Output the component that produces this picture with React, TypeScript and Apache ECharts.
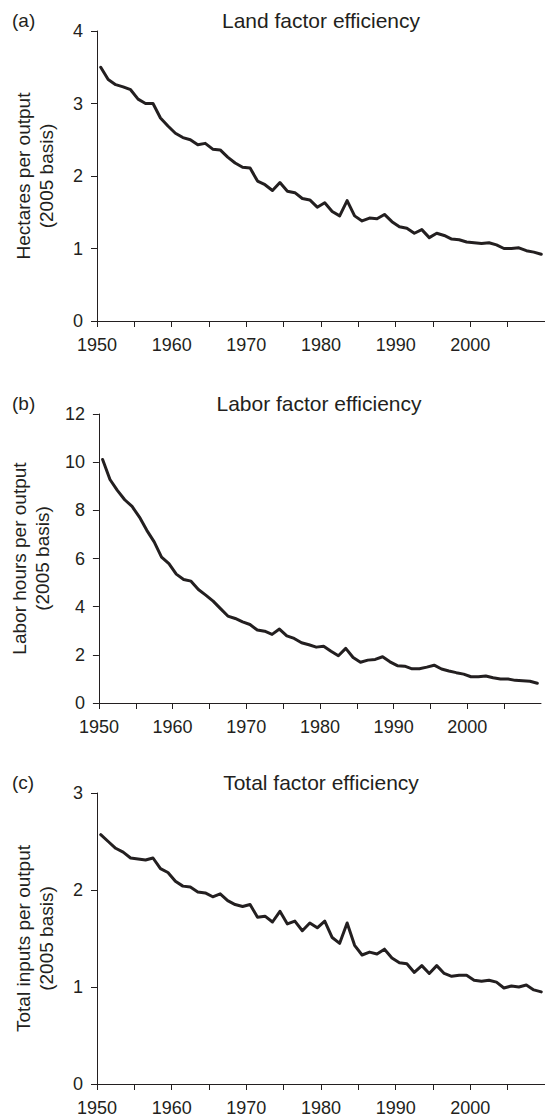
import React, { useEffect, useRef } from 'react';
import * as echarts from 'echarts';

const years = [
  1950, 1951, 1952, 1953, 1954, 1955, 1956, 1957, 1958, 1959,
  1960, 1961, 1962, 1963, 1964, 1965, 1966, 1967, 1968, 1969,
  1970, 1971, 1972, 1973, 1974, 1975, 1976, 1977, 1978, 1979,
  1980, 1981, 1982, 1983, 1984, 1985, 1986, 1987, 1988, 1989,
  1990, 1991, 1992, 1993, 1994, 1995, 1996, 1997, 1998, 1999,
  2000, 2001, 2002, 2003, 2004, 2005, 2006, 2007, 2008, 2009,
];

const landValues = [
  3.50, 3.33, 3.26, 3.23, 3.19, 3.06, 3.00, 3.00, 2.80, 2.69,
  2.59, 2.53, 2.50, 2.43, 2.45, 2.37, 2.36, 2.26, 2.18, 2.12,
  2.11, 1.93, 1.88, 1.80, 1.91, 1.79, 1.77, 1.69, 1.67, 1.57,
  1.63, 1.51, 1.45, 1.66, 1.45, 1.38, 1.42, 1.41, 1.47, 1.37,
  1.30, 1.28, 1.21, 1.26, 1.15, 1.21, 1.18, 1.13, 1.12, 1.09,
  1.08, 1.07, 1.08, 1.05, 1.00, 1.00, 1.01, 0.97, 0.95, 0.92,
];

const laborValues = [
  10.11, 9.28, 8.83, 8.44, 8.16, 7.72, 7.17, 6.69, 6.06, 5.79,
  5.35, 5.13, 5.06, 4.71, 4.48, 4.23, 3.92, 3.61, 3.51, 3.37,
  3.26, 3.03, 2.98, 2.85, 3.07, 2.79, 2.68, 2.50, 2.42, 2.32,
  2.36, 2.15, 1.96, 2.27, 1.89, 1.69, 1.78, 1.81, 1.92, 1.71,
  1.55, 1.53, 1.42, 1.42, 1.49, 1.57, 1.41, 1.33, 1.26, 1.20,
  1.09, 1.09, 1.12, 1.05, 1.00, 1.00, 0.94, 0.92, 0.90, 0.82,
];

const totalValues = [
  2.57, 2.50, 2.43, 2.39, 2.33, 2.32, 2.31, 2.33, 2.22, 2.18,
  2.09, 2.04, 2.03, 1.98, 1.97, 1.93, 1.96, 1.89, 1.85, 1.83,
  1.85, 1.72, 1.73, 1.67, 1.78, 1.65, 1.68, 1.58, 1.66, 1.61,
  1.68, 1.51, 1.45, 1.66, 1.43, 1.33, 1.36, 1.34, 1.39, 1.30,
  1.25, 1.24, 1.15, 1.22, 1.14, 1.22, 1.14, 1.11, 1.12, 1.12,
  1.07, 1.06, 1.07, 1.05, 0.99, 1.01, 1.00, 1.02, 0.97, 0.95,
];

const panelTitles = ['Land factor efficiency', 'Labor factor efficiency', 'Total factor efficiency'];
const panelLetters = ['(a)', '(b)', '(c)'];
const yAxisNames = [
  'Hectares per output\n(2005 basis)',
  'Labor hours per output\n(2005 basis)',
  'Total inputs per output\n(2005 basis)',
];
const yMax = [4, 12, 3];
const yInterval = [1, 2, 1];
const xMin = 1950;
const xMax = 2010;
const xInterval = 5;

const INK = '#231f20';
const FONT = '"Liberation Sans", Arial, Helvetica, sans-serif';

export default function App() {
  const ref = useRef<HTMLDivElement>(null);

  useEffect(() => {
    document.body.style.margin = '0';
    if (!ref.current) return;
    const chart = echarts.init(ref.current, undefined, { renderer: 'svg' });

    const grids = [
      { left: 97, top: 31, width: 448, height: 290 },
      { left: 97, top: 414, width: 444, height: 289 },
      { left: 97, top: 793, width: 448, height: 291 },
    ];
    const seriesValues = [landValues, laborValues, totalValues];

    const xAxes = grids.map((_, i) => ({
      type: 'value',
      gridIndex: i,
      min: xMin,
      max: xMax,
      interval: xInterval,
      axisLine: { show: true, lineStyle: { color: INK, width: 1 } },
      axisTick: { show: true, length: 6, lineStyle: { color: INK, width: 1 } },
      splitLine: { show: false },
      axisLabel: {
        margin: 15,
        color: INK,
        fontSize: 18,
        fontFamily: FONT,
        showMaxLabel: false,
        formatter: (v: number) => (v % 10 === 0 && v < 2010 ? String(v) : ''),
      },
    }));

    const yAxes = grids.map((_, i) => ({
      type: 'value',
      gridIndex: i,
      min: 0,
      max: yMax[i],
      interval: yInterval[i],
      name: yAxisNames[i],
      nameLocation: 'middle',
      nameGap: 39,
      nameRotate: 90,
      nameTextStyle: { color: INK, fontSize: 19, lineHeight: 23, fontFamily: FONT },
      axisLine: { show: true, lineStyle: { color: INK, width: 1 } },
      axisTick: { show: true, length: 6, lineStyle: { color: INK, width: 1 } },
      splitLine: { show: false },
      axisLabel: { margin: 14, color: INK, fontSize: 18, fontFamily: FONT },
    }));

    const series = seriesValues.map((vals, i) => ({
      type: 'line',
      xAxisIndex: i,
      yAxisIndex: i,
      data: years.map((y, k) => [y + 0.5, vals[k]]),
      showSymbol: false,
      symbol: 'none',
      lineStyle: { color: INK, width: 3, join: 'round', cap: 'round' },
      z: 3,
    }));

    const graphics: any[] = [];
    grids.forEach((g, i) => {
      const cy = g.top - 11;
      graphics.push({
        type: 'text',
        x: g.left + g.width / 2,
        y: cy,
        style: {
          text: panelTitles[i],
          fill: INK,
          fontSize: 21,
          fontFamily: FONT,
          align: 'center',
          verticalAlign: 'middle',
        },
      });
      graphics.push({
        type: 'text',
        x: 12,
        y: cy,
        style: {
          text: panelLetters[i],
          fill: INK,
          fontSize: 19,
          fontFamily: FONT,
          align: 'left',
          verticalAlign: 'middle',
        },
      });
    });

    chart.setOption({
      animation: false,
      backgroundColor: '#ffffff',
      grid: grids,
      xAxis: xAxes,
      yAxis: yAxes,
      series,
      graphic: graphics,
    });

    return () => chart.dispose();
  }, []);

  return <div ref={ref} style={{ width: 545, height: 1120 }} />;
}
